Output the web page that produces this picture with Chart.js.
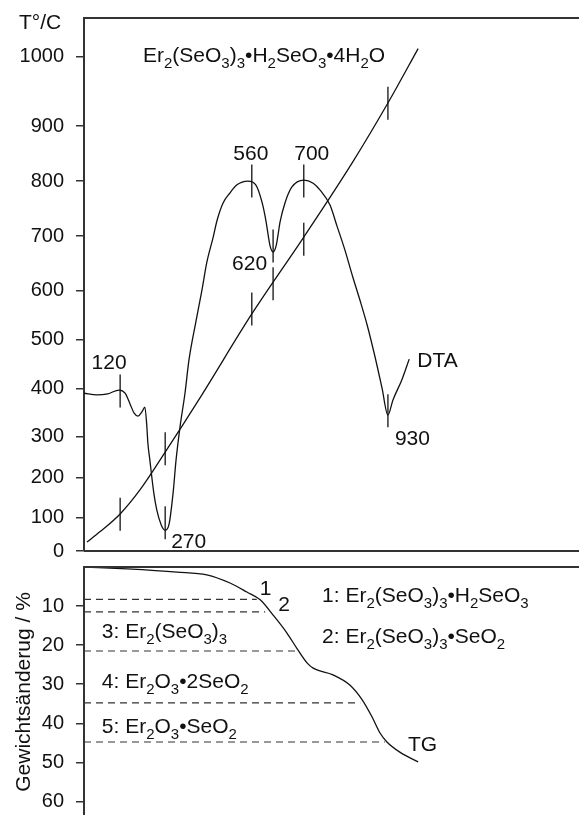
<!DOCTYPE html>
<html>
<head>
<meta charset="utf-8">
<script src="https://cdn.jsdelivr.net/npm/chart.js@4.4.1/dist/chart.umd.min.js"></script>
<style>
  html, body { margin: 0; padding: 0; background: #fff; overflow: hidden; }
  #wrap { position: relative; width: 579px; height: 815px; }
  canvas { position: absolute; left: 0; }
  #top { top: 0; }
  #bottom { top: 540px; }
</style>
</head>
<body>
<div id="wrap">
  <canvas id="bottom" width="579" height="285"></canvas>
  <canvas id="top" width="579" height="565"></canvas>
</div>
<script>
// x is the (unlabelled) time axis, 0..100 across the plot
const tempTicks = [0, 100, 200, 300, 400, 500, 600, 700, 800, 900, 1000];

// heating curve
const tempX = [0.6, 3.2, 7.3, 11.3, 16.4, 23.4, 33.9, 44.4, 54.3, 61.6, 67.5];
const tempY = [27, 58, 110, 170, 263, 381, 553, 698, 835, 936, 1012];

// DTA signal, arbitrary units
const dtaX = [0, 2.6, 4.8, 7.1, 8.3, 9.3, 10.1, 10.9, 11.7, 12.3, 12.7, 12.9, 13.3, 14.1, 14.7, 15.6, 16.4,
  17.2, 18.0, 18.6, 19.4, 20.4, 21.2, 22.6, 23.8, 24.8, 26.1, 26.9, 28.1, 29.5, 30.9, 33.1, 34.7, 36.0,
  36.8, 37.2, 37.6, 38.2, 38.8, 39.2, 39.6, 40.6, 42.0, 44.4, 46.3, 47.7, 49.7, 51.1, 52.7, 54.3, 55.8,
  57.2, 58.8, 60.2, 61.4, 62.4, 64.2, 65.7];
const dtaY = [29.6, 29.3, 29.5, 30.2, 29.6, 27.6, 25.9, 25.3, 26.1, 27.0, 23.3, 20.3, 17.1, 10.9, 7.7, 4.9, 3.9,
  5.1, 10.9, 17.1, 23.3, 29.6, 35.8, 43.0, 48.8, 54.1, 58.9, 62.1, 65.3, 67.2, 68.7, 69.4, 68.7, 65.3,
  61.7, 59.3, 57.2, 56.1, 57.2, 59.3, 61.7, 65.3, 68.3, 69.6, 69.0, 67.7, 64.9, 61.0, 56.5, 51.4, 46.9,
  42.4, 36.4, 30.6, 25.5, 28.3, 32.1, 36.0];

// thermal effects
const eventLabels = ["120", "270", "560", "620", "700", "930"];
const eventX = [7.3, 16.4, 33.9, 38.2, 44.4, 61.4];
const eventDta = [30.0, 5.3, 69.4, 57.2, 69.4, 26.3];
const eventTemp = [109, 271, 563, 613, 694, 933];

// TG curve (weight loss %)
const tgTicks = [10, 20, 30, 40, 50, 60];
const tgX = [0, 8.7, 18.8, 24.8, 29.5, 32.9, 35.6, 38.2, 41.0, 43.2, 45.1, 46.3, 50.3, 53.7, 56.2, 58.2,
  59.8, 61.2, 63.8, 67.5];
const tgY = [0, 0.5, 1.3, 2.0, 4.1, 6.4, 8.4, 12.3, 16.9, 21.2, 24.6, 25.9, 27.6, 30.2, 34.0, 38.4,
  42.5, 44.8, 47.4, 49.9];

// decomposition steps
const stepLevel = [8.3, 11.5, 21.5, 34.8, 44.8];
const stepEnd = [34.9, 36.6, 43.2, 55.8, 60.8];
const stepNames = ["1: Er_2(SeO_3)_3•H_2SeO_3", "2: Er_2(SeO_3)_3•SeO_2", "3: Er_2(SeO_3)_3",
  "4: Er_2O_3•2SeO_2", "5: Er_2O_3•SeO_2"];

const FONT = "'Liberation Sans', Arial, Helvetica, sans-serif";
const FS = 20;   // tick labels
const FA = 21;   // annotations
Chart.defaults.font.family = FONT;
Chart.defaults.font.size = FS;
Chart.defaults.color = "#111";

// the printed temperature axis is not evenly spaced, so map it through its tick positions
const tempKnots = [0, 100, 200, 300, 400, 500, 600, 700, 800, 900, 1000, 1056];
const tempKnotPos = [0, 0.062, 0.137, 0.214, 0.304, 0.396, 0.488, 0.591, 0.694, 0.797, 0.927, 1];

function interp(v, xs, ys) {
  let i = 1;
  while (i < xs.length - 1 && v > xs[i]) i++;
  const t = (v - xs[i - 1]) / (xs[i] - xs[i - 1]);
  return ys[i - 1] + t * (ys[i] - ys[i - 1]);
}

class TempScale extends Chart.LinearScale {
  static id = "tempScale";
  static defaults = Chart.LinearScale.defaults;
  getPixelForValue(value) {
    return this.getPixelForDecimal(interp(value, tempKnots, tempKnotPos));
  }
  getValueForPixel(pixel) {
    return interp(this.getDecimalForPixel(pixel), tempKnotPos, tempKnots);
  }
}
Chart.register(TempScale);

function pts(xs, ys) {
  return xs.map((x, i) => ({ x: x, y: ys[i] }));
}

function drawChem(ctx, text, x, y, size) {
  ctx.textAlign = "left";
  ctx.textBaseline = "alphabetic";
  for (let i = 0; i < text.length; i++) {
    let ch = text[i];
    let sub = false;
    if (ch === "_") { sub = true; ch = text[++i]; }
    ctx.font = (sub ? Math.round(size * 0.72) : size) + "px " + FONT;
    ctx.fillText(ch, x, sub ? y + size * 0.3 : y);
    x += ctx.measureText(ch).width;
  }
}

const curve = {
  borderColor: "#111",
  borderWidth: 1.3,
  pointRadius: 0,
  fill: false,
  cubicInterpolationMode: "monotone"
};
const marker = {
  showLine: false,
  pointStyle: "line",
  rotation: 90,
  pointRadius: 16.5,
  pointBorderWidth: 1.3,
  pointBorderColor: "#111",
  borderColor: "#111"
};

const axisY = {
  grid: { drawOnChartArea: false, drawTicks: true, tickLength: 8, color: "#333", lineWidth: 1.5 },
  border: { display: true, color: "#333", width: 2 },
  ticks: { padding: 12, color: "#111", callback: (v) => String(v) },
  afterFit: (s) => {
    // fixed axis width, and don't let the end labels shrink the plot
    s.width = 84;
    s.paddingTop = 0;
    s.paddingBottom = 0;
  }
};

// frame lines and annotation text for the DTA panel
const topText = {
  id: "topText",
  afterDraw(chart) {
    const ctx = chart.ctx;
    const a = chart.chartArea;
    const xs = chart.scales.x, yd = chart.scales.yd;
    ctx.save();
    ctx.strokeStyle = "#333";
    ctx.lineWidth = 2;
    ctx.beginPath();
    ctx.moveTo(a.left, a.top); ctx.lineTo(a.right, a.top);
    ctx.moveTo(a.left, a.bottom); ctx.lineTo(a.right, a.bottom);
    ctx.stroke();

    ctx.fillStyle = "#111";
    ctx.font = FA + "px " + FONT;
    ctx.textBaseline = "alphabetic";
    ctx.textAlign = "left";
    ctx.fillText("T°/C", 19, 29);

    const place = [
      { align: "center", dx: -11, dy: -22 },
      { align: "left", dx: 6, dy: 25 },
      { align: "center", dx: -1, dy: -21 },
      { align: "right", dx: -6, dy: 24 },
      { align: "center", dx: 8, dy: -21 },
      { align: "left", dx: 7, dy: 34 }
    ];
    eventLabels.forEach((lab, i) => {
      const px = xs.getPixelForValue(eventX[i]);
      const py = yd.getPixelForValue(eventDta[i]);
      ctx.textAlign = place[i].align;
      ctx.fillText(lab, px + place[i].dx, py + place[i].dy);
    });

    ctx.textAlign = "left";
    const last = dtaX.length - 1;
    ctx.fillText("DTA", xs.getPixelForValue(dtaX[last]) + 8, yd.getPixelForValue(dtaY[last]) + 8);

    drawChem(ctx, "Er_2(SeO_3)_3•H_2SeO_3•4H_2O", a.left + 59, 62, FA);
    ctx.restore();
  }
};

new Chart(document.getElementById("top"), {
  type: "line",
  data: {
    datasets: [
      Object.assign({ label: "T", data: pts(tempX, tempY), yAxisID: "y" }, curve),
      Object.assign({ label: "DTA", data: pts(dtaX, dtaY), yAxisID: "yd" }, curve),
      Object.assign({ label: "events DTA", data: pts(eventX, eventDta), yAxisID: "yd" }, marker),
      Object.assign({ label: "events T", data: pts(eventX, eventTemp), yAxisID: "y" }, marker)
    ]
  },
  options: {
    responsive: false,
    animation: false,
    events: [],
    layout: { autoPadding: false, padding: { top: 18, bottom: 14, left: 0, right: 0 } },
    plugins: { legend: { display: false }, tooltip: { enabled: false } },
    scales: {
      x: { type: "linear", min: 0, max: 100, display: false },
      y: Object.assign({
        type: "tempScale", position: "left", min: 0, max: 1056,
        afterBuildTicks: (s) => { s.ticks = tempTicks.map((v) => ({ value: v })); }
      }, axisY),
      yd: { type: "linear", position: "left", min: 0, max: 100, display: false }
    }
  },
  plugins: [topText]
});

// TG panel
const bottomText = {
  id: "bottomText",
  afterDraw(chart) {
    const ctx = chart.ctx;
    const a = chart.chartArea;
    const xs = chart.scales.x, ys = chart.scales.y;
    ctx.save();
    ctx.strokeStyle = "#333";
    ctx.lineWidth = 2;
    ctx.beginPath();
    ctx.moveTo(a.left, a.top); ctx.lineTo(a.right, a.top);
    ctx.stroke();

    ctx.fillStyle = "#111";
    ctx.font = FA + "px " + FONT;
    ctx.textAlign = "left";
    ctx.fillText("1", xs.getPixelForValue(stepEnd[0]) + 3, ys.getPixelForValue(stepLevel[0]) - 4);
    ctx.fillText("2", xs.getPixelForValue(stepEnd[1]) + 13, ys.getPixelForValue(stepLevel[1]) - 1);

    const namePos = [[48.1, 9.0], [48.1, 19.5], [3.6, 18.2], [3.6, 31.0], [3.6, 42.5]];
    stepNames.forEach((n, i) => {
      drawChem(ctx, n, xs.getPixelForValue(namePos[i][0]), ys.getPixelForValue(namePos[i][1]), FA);
    });

    ctx.font = FA + "px " + FONT;
    ctx.textAlign = "left";
    ctx.fillText("TG", xs.getPixelForValue(65.45), ys.getPixelForValue(47.1));
    ctx.restore();
  }
};

const stepSets = stepLevel.map((lv, i) => ({
  label: "step " + (i + 1),
  data: [{ x: 0, y: lv }, { x: stepEnd[i], y: lv }],
  borderColor: "#333",
  borderWidth: 1.2,
  borderDash: [7, 5],
  pointRadius: 0,
  fill: false
}));

new Chart(document.getElementById("bottom"), {
  type: "line",
  data: {
    datasets: [Object.assign({ label: "TG", data: pts(tgX, tgY) }, curve)].concat(stepSets)
  },
  options: {
    responsive: false,
    animation: false,
    events: [],
    layout: { autoPadding: false, padding: { top: 27, bottom: 8, left: 0, right: 0 } },
    plugins: { legend: { display: false }, tooltip: { enabled: false } },
    scales: {
      x: { type: "linear", min: 0, max: 100, display: false },
      y: Object.assign({
        type: "linear", position: "left", reverse: true, min: 0, max: 64,
        afterBuildTicks: (s) => { s.ticks = tgTicks.map((v) => ({ value: v })); },
        title: { display: true, text: "Gewichtsänderug / %", color: "#111", font: { size: FA }, padding: { top: 12 } }
      }, axisY)
    }
  },
  plugins: [bottomText]
});
</script>
</body>
</html>
